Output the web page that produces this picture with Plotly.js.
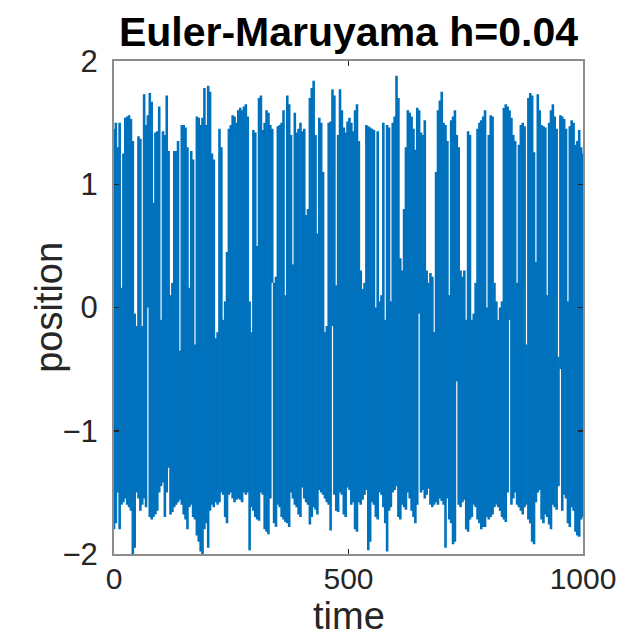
<!DOCTYPE html>
<html><head><meta charset="utf-8">
<script src="https://cdn.plot.ly/plotly-3.0.1.min.js"></script>
<style>body{margin:0;background:#fff}</style></head>
<body><div id="chart" style="width:627px;height:640px"></div>
<script>
// Per-bin extremes of the Euler-Maruyama path (bins of ~4 time units)
const upper = [
 1.45,1.5,1.3,1.5,0.16,1.25,1.54,1.55,1.56,1.53, 1.35,-0.05,-0.15,1.39,1.37,-0.15,1.73,1.48,1.56,1.74,
 1.67,0.85,1.42,1.43,1.63,-0.1,1.43,1.4,1.72,1.27, 0.1,0.2,1.27,1.27,1.35,-0.35,1.48,1.48,1.46,1.3,
 0.16,1.27,1.2,-0.3,1.55,1.54,1.48,1.54,1.78,1.48,
 1.8,1.75,1.25,1.2,-0.25,-0.2,1.45,1.3,-0.1,0.05, 0.45,1.45,1.48,1.56,1.55,1.5,1.6,1.62,1.6,1.63,
 1.65,1.55,0.05,-0.2,1.44,1.42,0.5,1.7,1.72,1.44, 1.5,1.6,1.58,1.48,1.45,0.2,0.25,1.47,1.48,1.5,
 1.6,0.1,1.72,1.65,1.4,0.35,1.58,1.42,1.45,1.5,
 1.43,1.45,0.75,0.8,1.7,1.78,1.84,1.4,0.6,1.54, 1.5,1.1,-0.2,-0.15,1.5,1.51,1.77,1.72,0.18,1.4,
 1.77,1.6,1.46,1.42,1.51,1.54,1.5,1.43,1.6,1.65, 1.35,0.3,0.15,0.2,1.48,1.47,1.46,1.45,1.44,0.0,
 1.43,0.05,0.1,1.5,-0.1,1.48,1.46,0.05,1.5,1.55,
 1.88,1.7,0.4,0.3,0.8,1.3,1.6,1.58,1.55,1.45, 1.28,1.62,1.6,1.42,1.4,1.52,0.3,0.2,0.28,0.25,
 -0.2,1.1,1.6,1.68,1.75,1.5,1.48,1.35,0.1,1.52, 1.55,1.6,1.4,1.3,0.3,0.25,0.3,-0.1,1.43,1.4,
 -0.1,-0.05,0.2,1.45,1.5,1.52,1.55,1.6,0.0,1.4,
 1.56,1.55,0.2,0.05,-0.1,0.0,0.05,1.62,1.65,1.63, 1.6,1.54,1.4,1.35,0.2,1.32,1.48,1.5,1.47,-0.3,
 1.7,1.74,1.72,1.26,0.37,1.73,1.6,1.48,1.47,1.46, 0.1,1.5,1.6,1.65,1.55,1.45,-0.4,1.56,1.55,1.53,
 1.45,0.05,1.47,1.52,1.5,1.32,1.35,1.44,1.3,1.25
];
const lower = [
 -1.8,-1.75,-1.5,-1.8,-1.6,-1.58,-1.55,-1.6,-1.62,-1.65, -2.0,-1.95,-1.5,-1.55,-1.65,-1.6,-1.55,-1.62,0.0,-1.7,
 -1.72,-1.7,-1.68,-1.65,-1.5,-1.45,-1.42,-1.7,-1.5,-1.3, -1.68,-1.66,-1.62,-1.6,-1.58,-1.56,-1.6,-1.68,-1.72,-1.8,
 -1.62,-1.6,-1.7,-1.72,-1.85,-1.9,-1.98,-2.0,-1.8,-1.75,
 -1.95,-1.65,-1.6,-1.62,-1.58,-1.6,-1.58,-1.5,-1.52,-1.7, -1.75,-1.52,-1.5,-1.55,-1.58,-1.56,-1.55,-1.56,-1.58,-1.5,
 -1.52,-1.5,-1.97,-1.62,-1.65,-1.7,-1.72,-1.73,-1.5,-1.52, -1.8,-1.82,-1.84,-1.55,0.2,-1.75,-1.78,-1.6,-1.62,-1.7,
 -1.72,-1.74,-1.75,-1.78,-1.5,-1.55,-1.6,-1.62,-1.68,-1.7,
 -1.46,-1.55,-1.58,-1.6,-1.76,-1.7,-1.62,-1.64,-1.68,-1.48, -1.5,-1.52,-1.55,-1.58,-1.6,-1.81,-0.15,-1.52,-1.65,-1.66,
 -1.5,-1.52,-1.68,-1.7,-1.46,-1.48,-1.6,-1.58,-1.8,-1.82, -1.58,-1.6,-1.56,-1.52,-1.48,-1.97,-1.9,-1.58,-1.6,-1.7,
 -1.72,-1.5,-1.52,-1.62,-1.75,-1.98,-1.65,-1.62,-1.5,-1.48,
 -1.45,-1.7,-1.72,-1.6,-1.62,-1.64,-1.5,-1.55,-1.65,-1.7, -1.75,-1.6,-0.05,-1.5,-1.48,-1.55,-1.52,-1.47,-1.6,-1.62,
 -1.6,-1.58,-1.6,-1.55,-1.57,-1.6,-1.95,-1.55,-1.72,-1.75, -1.92,-1.9,-0.6,-1.6,-1.62,-1.58,-1.56,-1.8,-1.82,-1.72,
 -1.7,-1.6,-1.62,-1.72,-1.75,-1.8,-1.78,-1.78,-1.7,-1.72,
 -1.7,-1.68,-1.62,-1.6,-1.62,-1.65,-1.7,-1.72,-1.74,-1.5, -0.1,-1.6,-1.55,-1.5,-1.6,-1.62,-1.65,-1.68,-1.62,-1.6,
 -1.72,-1.75,-1.9,-1.92,-1.58,-1.5,-1.48,-1.72,-1.75,-1.68, -1.7,-1.76,-1.8,-1.6,-1.62,-1.64,-1.45,-0.5,-1.65,-1.52,
 -1.55,-1.75,-1.78,-1.62,-1.65,-1.82,-1.85,-1.86,-1.72,-1.7
];
const tStart = 0, tEnd = 1000;
const xTicks = [0, 500, 1000];
const yTicks = [-2, -1, 0, 1, 2];
const yTickText = ['\u22122', '\u22121', '0', '1', '2'];

const xs = [], ys = [];
const n = upper.length;
for (let i = 0; i < n; i++) {
  const t = tStart + (tEnd - tStart) * i / (n - 1);
  xs.push(t, t, null);
  ys.push(lower[i], upper[i], null);
}

const font = 'Liberation Sans, Arial, Helvetica, sans-serif';
const axisCommon = {
  showgrid: false, zeroline: false, showline: true, mirror: 'ticks',
  linecolor: '#8c8c8c', linewidth: 2,
  ticks: 'inside', ticklen: 5, tickwidth: 1.5, tickcolor: '#262626',
  tickfont: {family: font, size: 31, color: '#262626'},
  fixedrange: true
};
const layout = {
  width: 627, height: 640,
  margin: {l: 114, r: 44, t: 61, b: 86},
  paper_bgcolor: '#ffffff', plot_bgcolor: '#ffffff',
  showlegend: false,
  title: {text: 'Euler-Maruyama h=0.04', font: {family: font, size: 41, color: '#000000', weight: 'bold'},
          x: 0.5, xref: 'paper', xanchor: 'center', y: 0.95, yref: 'container', yanchor: 'middle'},
  xaxis: Object.assign({}, axisCommon, {range: [tStart, tEnd], tickvals: xTicks, ticktext: xTicks.map(String),
          ticklabelstandoff: -3, tickfont: {family: font, size: 30, color: '#262626'}}),
  yaxis: Object.assign({}, axisCommon, {range: [-2, 2], tickvals: yTicks, ticktext: yTickText,
          ticklabelstandoff: 8}),
  annotations: [
    {text: 'time', xref: 'paper', yref: 'paper', x: 0.5, y: -0.172, xanchor: 'center', yanchor: 'bottom',
     showarrow: false, font: {family: font, size: 38, color: '#262626'}},
    {text: 'position', xref: 'paper', yref: 'paper', x: -0.14, y: 0.5, xanchor: 'center', yanchor: 'middle',
     textangle: -90, showarrow: false, font: {family: font, size: 38, color: '#262626'}}
  ]
};
const data = [{
  type: 'scatter', mode: 'lines', x: xs, y: ys, connectgaps: false,
  line: {color: '#0072BD', width: 2.6}, hoverinfo: 'skip'
}];
Plotly.newPlot('chart', data, layout, {displayModeBar: false, staticPlot: true});
</script></body></html>
